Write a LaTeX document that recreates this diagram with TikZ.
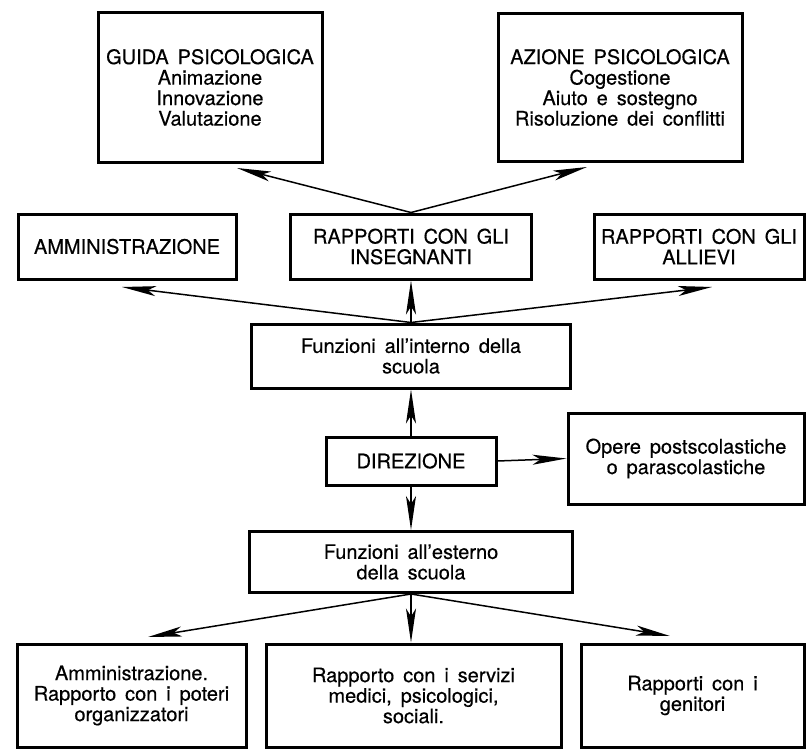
\documentclass[tikz,border=0pt]{standalone}
\usepackage{fontspec}
\setmainfont{TeX Gyre Heros}[WordSpace=1.6,FakeBold=0.4]
\usetikzlibrary{arrows.meta}

\tikzset{
  box/.style={draw, line width=3pt, align=center, inner sep=2pt,
    font=\fontsize{20}{20.5}\selectfont},
  link/.style={line width=1.5pt, -{Stealth[length=34pt,width=10pt,inset=8pt]}},
}

\begin{document}
\begin{tikzpicture}[x=1pt,y=-1pt]
\useasboundingbox (0,0) rectangle (807,752);
% upper level
\node[box, minimum width=224, minimum height=149] (guida) at (210,87.5) {GUIDA PSICOLOGICA\\Animazione\\Innovazione\\Valutazione};
\node[box, minimum width=244, minimum height=147] (azione) at (620,87.5) {AZIONE PSICOLOGICA\\Cogestione\\Aiuto e sostegno\\Risoluzione dei conflitti};
% relations
\node[box, minimum width=218, minimum height=65] (ammin) at (127,246.5) {AMMINISTRAZIONE};
\node[box, minimum width=241, minimum height=65] (insegn) at (411,246.5) {RAPPORTI CON GLI\\INSEGNANTI};
\node[box, minimum width=210, minimum height=65] (allievi) at (699,246.5) {RAPPORTI CON GLI\\ALLIEVI};
% centre
\node[box, minimum width=319, minimum height=64] (interno) at (411,356) {Funzioni all'interno della\\scuola};
\node[box, minimum width=170, minimum height=48] (direz) at (411,461) {DIREZIONE};
\node[box, minimum width=236, minimum height=91] (opere) at (686,458.5) {Opere postscolastiche\\o parascolastiche};
\node[box, minimum width=323, minimum height=61] (esterno) at (411,562) {Funzioni all'esterno\\della scuola};
% lower level
\node[box, minimum width=229, minimum height=103] (ext1) at (131.5,695.5) {Amministrazione.\\Rapporto con i poteri\\organizzatori};
\node[box, minimum width=295, minimum height=103] (ext2) at (413.5,695.5) {Rapporto con i servizi\\medici, psicologici,\\sociali.};
\node[box, minimum width=223, minimum height=103] (ext3) at (692.5,695.5) {Rapporti con i\\genitori};

% free arrow ends
\coordinate (gtip) at (237,168);
\coordinate (atip) at (587,167);
\coordinate (mtip) at (122,287);
\coordinate (ltip) at (712,287);
\coordinate (etip1) at (148,637);
\coordinate (etip3) at (670,636);

\draw[link] (insegn.north) -- (gtip);
\draw[link] (insegn.north) -- (atip);
\draw[link] (interno.north) -- (mtip);
\draw[link] (interno.north) -- (ltip);
\draw[link] (interno.north) -- (insegn.south);
\draw[link] (direz.north) -- (interno.south);
\draw[link] (direz.east) -- (opere.west);
\draw[link] (direz.south) -- (esterno.north);
\draw[link] (esterno.south) -- (etip1);
\draw[link] (esterno.south) -- (esterno.south |- ext2.north);
\draw[link] (esterno.south) -- (etip3);
\end{tikzpicture}
\end{document}
